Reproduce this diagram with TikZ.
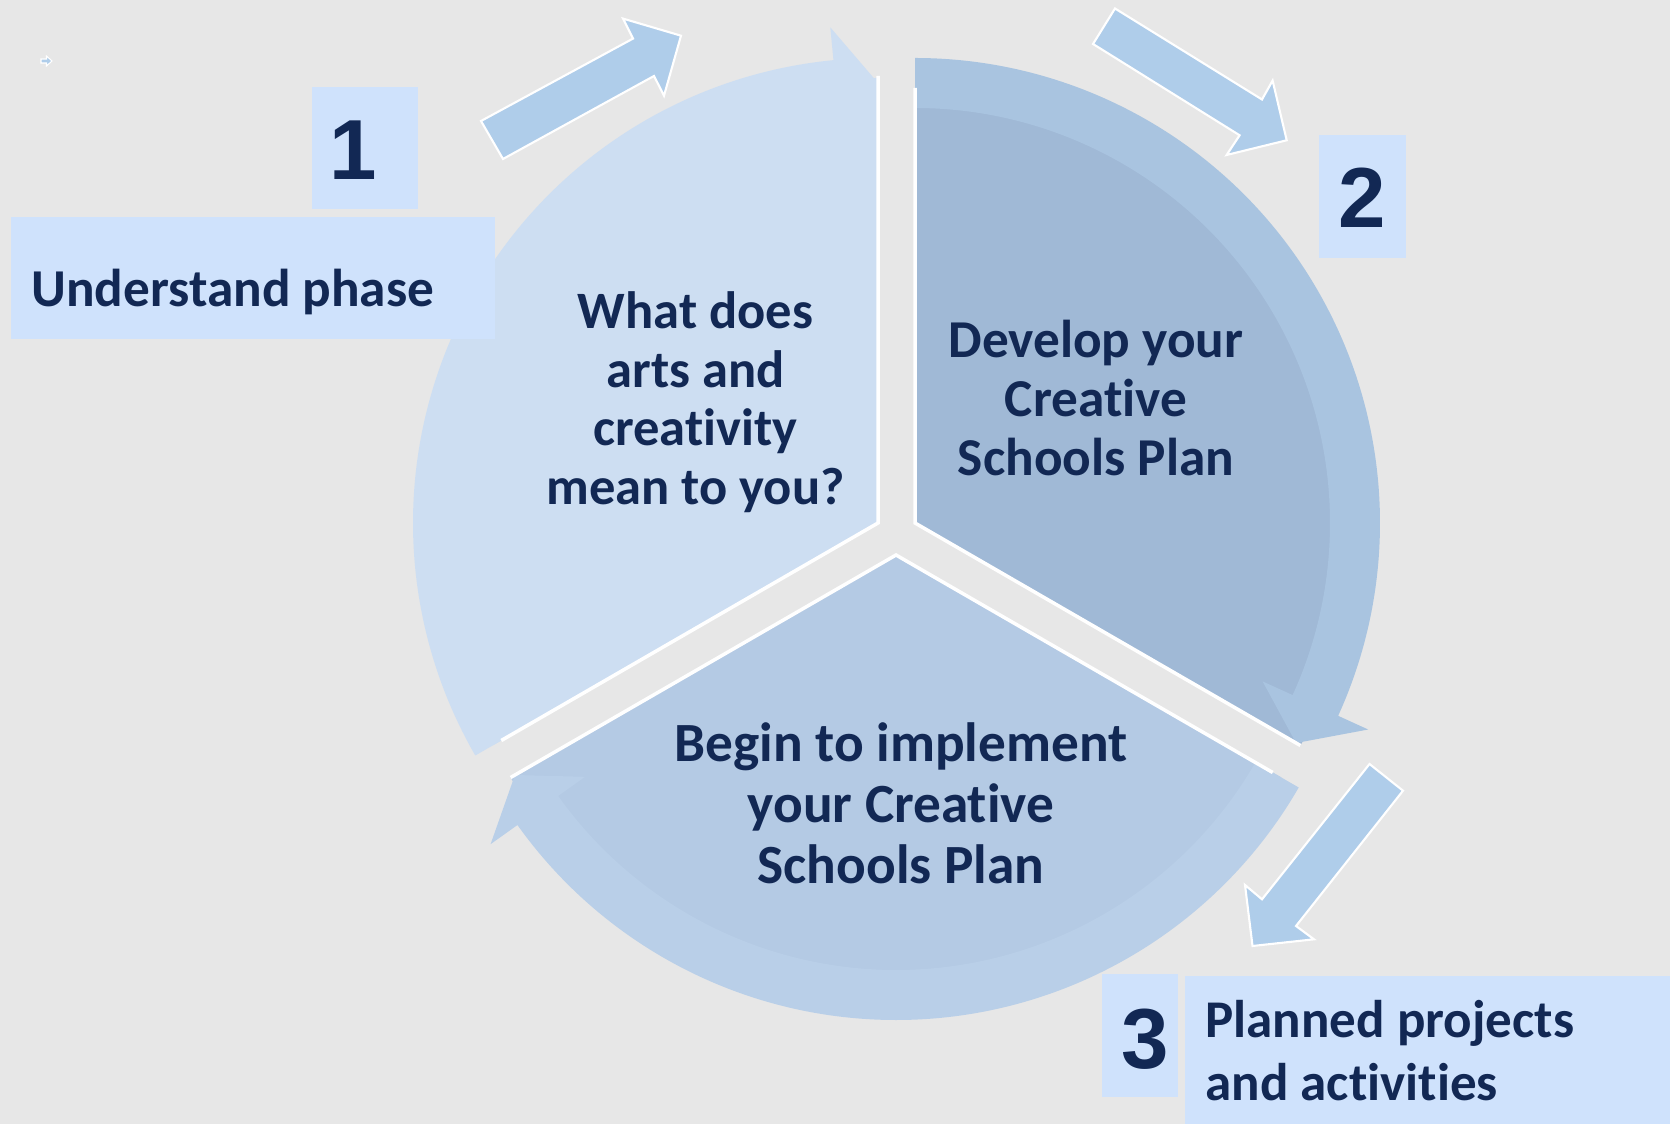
\documentclass[tikz,border=0pt]{standalone}
\usepackage{fontspec}
\newfontfamily\calib{Carlito}[Ligatures=NoCommon]
\newfontfamily\arialf{Liberation Sans}
\definecolor{bg}{RGB}{231,231,231}
\definecolor{boxc}{RGB}{207,226,252}
\definecolor{wedgeL}{RGB}{205,222,242}
\definecolor{bandL}{RGB}{205,222,242}
\definecolor{wedgeR}{RGB}{160,185,214}
\definecolor{bandR}{RGB}{169,196,224}
\definecolor{wedgeB}{RGB}{180,202,228}
\definecolor{bandB}{RGB}{185,207,232}
\definecolor{arrc}{RGB}{175,205,234}
\definecolor{txt}{RGB}{18,40,84}
\newcommand\linesc[1]{\vtop{\halign{\hfil##\hfil\cr#1\crcr}}}
\newcommand\linesl[1]{\vtop{\halign{##\hfil\cr#1\crcr}}}
\begin{document}
\begin{tikzpicture}[x=0.01cm,y=0.01cm,
  lbl/.style={inner sep=0pt, outer sep=0pt, text=txt},
  num/.style={lbl, anchor=base, font=\arialf\bfseries\fontsize{24.24}{29}\selectfont},
  tagbox/.style={fill=boxc},
  smallarrow/.style={fill=arrc, draw=white, line width=0.6pt, line join=miter},
  sepline/.style={draw=white, line width=1pt, line join=miter}]
\useasboundingbox (0,0) rectangle (1670,1124);
\fill[bg] (0,0) rectangle (1670,1124);

% wedges
\begin{scope}[shift={(878,601)}]
  \fill[wedgeL] (0,0) -- (210:445) arc[start angle=210,end angle=90,radius=445] -- cycle;
\end{scope}
\begin{scope}[shift={(915,601)}]
  \fill[wedgeR] (0,0) -- (90:445) arc[start angle=90,end angle=-30,radius=445] -- cycle;
\end{scope}
\begin{scope}[shift={(896,569)}]
  \fill[wedgeB] (0,0) -- (330:445) arc[start angle=330,end angle=210,radius=445] -- cycle;
\end{scope}

% circular arrow bands
\begin{scope}[shift={(878,601)}]
  \fill[bandL] (210:465) arc[start angle=210,end angle=95.5,radius=465] -- (95.5:498) -- (90:440) -- (95.5:382) -- (95.5:415) arc[start angle=95.5,end angle=210,radius=415] -- cycle;
  \draw[sepline] (210:435) -- (0,0) -- (90:447);
\end{scope}
\begin{scope}[shift={(915,601)}]
  \fill[bandR] (90:465) arc[start angle=90,end angle=-24.5,radius=465] -- (-24.5:498) -- (-30:440) -- (-24.5:382) -- (-24.5:415) arc[start angle=-24.5,end angle=90,radius=415] -- cycle;
  \draw[sepline] (90:435) -- (0,0) -- (-30:445);
\end{scope}
\begin{scope}[shift={(896,569)}]
  \fill[bandB] (330:465) arc[start angle=330,end angle=215.5,radius=465] -- (215.5:498) -- (210:440) -- (215.5:382) -- (215.5:415) arc[start angle=215.5,end angle=330,radius=415] -- cycle;
  \draw[sepline] (330:435) -- (0,0) -- (210:445);
\end{scope}

% small block arrows
\draw[smallarrow] (481,1003) -- (633,1085.4) -- (623,1105.4) -- (681,1088.3) -- (664,1028.3) -- (654,1048) -- (503,965) -- cycle;
\draw[smallarrow] (1115,1115.5) -- (1262,1024.5) -- (1272.6,1043.4) -- (1286.7,983.7) -- (1226.6,969) -- (1239.6,988.7) -- (1093,1080) -- cycle;
\draw[smallarrow] (1369.5,360) -- (1403,333.3) -- (1296,198) -- (1314,184.7) -- (1252.5,178) -- (1245,239) -- (1262,224.7) -- cycle;
\draw[smallarrow, line width=0.3pt] (41,1065) -- (46.5,1065) -- (46.5,1068) -- (52,1063) -- (46.5,1058) -- (46.5,1061) -- (41,1061) -- cycle;

% label boxes
\fill[tagbox] (311.6,914.7) rectangle (417.7,1036.7);
\fill[tagbox] (11,784.7) rectangle (494.8,907.3);
\fill[tagbox] (1319,866.3) rectangle (1406,989);
\fill[tagbox] (1102.2,27.3) rectangle (1177.7,149.7);
\fill[tagbox] (1185.2,0) rectangle (1670,148);

% texts
\node[num] (n1) at (353,944.7) {1};
\node[num] (n2) at (1362,896.7) {2};
\node[num] (n3) at (1145,55.7) {3};
\node[lbl, anchor=base west, font=\calib\bfseries\fontsize{15.15}{16.6}\selectfont] (und) at (31.5,817.3) {Understand phase};
\node[lbl, anchor=base west, font=\calib\bfseries\fontsize{15.08}{18.0}\selectfont] (plan) at (1205.5,87) {\linesl{Planned projects\cr and activities}};
\node[lbl, anchor=base, font=\calib\bfseries\fontsize{14.94}{16.6}\selectfont] (what) at (695.5,795) {\linesc{What does\cr arts and\cr creativity\cr mean to you?}};
\node[lbl, anchor=base, font=\calib\bfseries\fontsize{15.15}{16.7}\selectfont] (dev) at (1096,766) {\linesc{Develop your\cr Creative\cr Schools Plan}};
\node[lbl, anchor=base, font=\calib\bfseries\fontsize{15.73}{17.4}\selectfont] (begin) at (901,362.7) {\linesc{Begin to implement\cr your Creative\cr Schools Plan}};
\end{tikzpicture}
\end{document}
